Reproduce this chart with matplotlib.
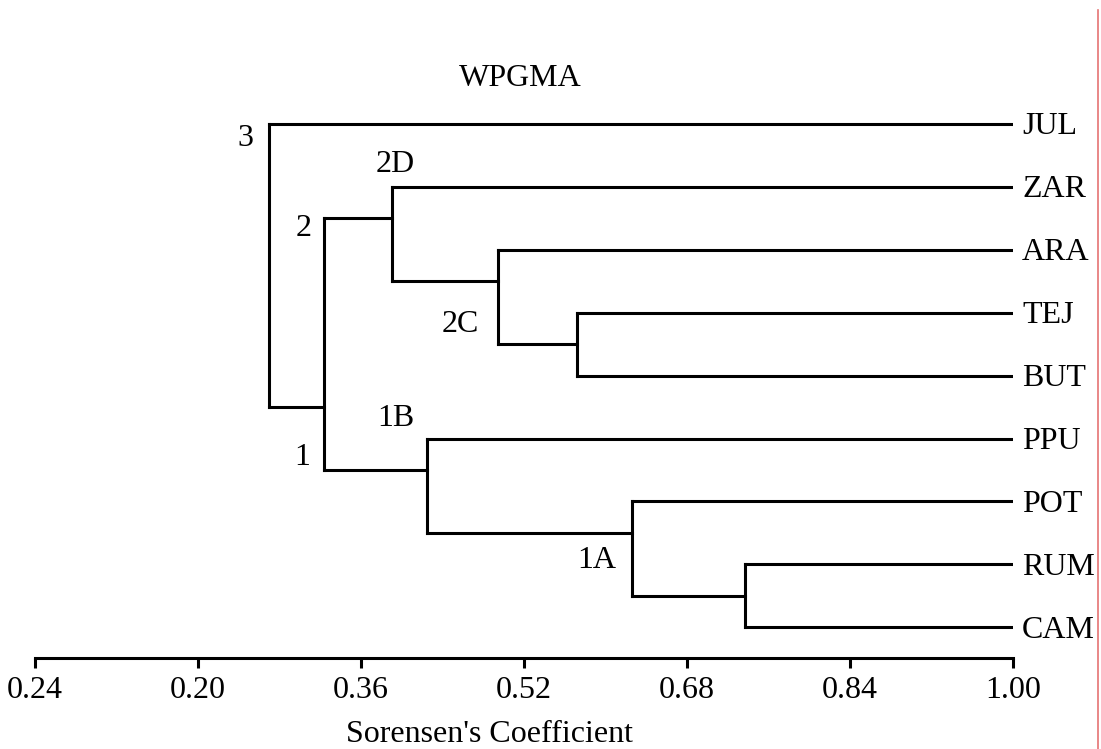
import matplotlib
matplotlib.use("Agg")
import matplotlib.pyplot as plt
from matplotlib.lines import Line2D

# ------------------------------------------------------------------ #
#  Data                                        #
# ------------------------------------------------------------------ #
leaves = ["JUL", "ZAR", "ARA", "TEJ", "BUT", "PPU", "POT", "RUM", "CAM"]

node_names = ["TB", "2C", "2D", "RC", "1A", "1B", "X", "3"]
node_left = ["TEJ", "ARA", "ZAR", "RUM", "POT", "PPU", "2D", "JUL"]
node_right = ["BUT", "TB", "2C", "CAM", "RC", "1A", "1B", "X"]
node_sim = [0.572, 0.494, 0.390, 0.737, 0.626, 0.425, 0.324, 0.270]

tick_vals = [0.04, 0.20, 0.36, 0.52, 0.68, 0.84, 1.00]
tick_labels = ["0.24", "0.20", "0.36", "0.52", "0.68", "0.84", "1.00"]

# cluster labels: node, text, anchor ("top", "bottom", "stem"), offset in px
label_node = ["3", "2D", "X", "2C", "1B", "X", "1A"]
label_text = ["3", "2D", "2", "2C", "1B", "1", "1A"]
label_anchor = ["top", "top", "top", "bottom", "top", "bottom", "stem"]
label_offset = [(-24, -14), (4, 22), (-21, -10), (-37, 20), (-31, 20), (-22, 12), (-35, -28)]

FONT = "Liberation Serif"
FS = 23
LW = 2.2

W, H = 1101, 749
fig = plt.figure(figsize=(W / 100, H / 100), dpi=100)
fig.patch.set_facecolor("white")

# axes placed so that 0.04 -> x=35px, 1.00 -> x=1013px, axis line at y=658px
top_px, bot_px = 42, 658
ax = fig.add_axes([35 / W, 1 - bot_px / H, (1013 - 35) / W, (bot_px - top_px) / H])
row_px = 62.9
ax.set_xlim(0.04, 1.00)
ax.set_ylim((bot_px - 124) / row_px, -(124 - top_px) / row_px)

# layout: leaves at integer rows, a node's stem sits halfway between the
# last leaf of its left child and the first leaf of its right child
pos = {name: float(i) for i, name in enumerate(leaves)}
first = {name: i for i, name in enumerate(leaves)}
last = dict(first)
height = {name: 1.0 for name in leaves}
span = {}
for name, l, r, s in zip(node_names, node_left, node_right, node_sim):
    first[name] = first[l]
    last[name] = last[r]
    pos[name] = last[l] + 0.5
    height[name] = s
    span[name] = (pos[l], pos[r])
    ax.plot([s, s], [pos[l], pos[r]], color="black", lw=LW, solid_capstyle="projecting")
    for child in (l, r):
        ax.plot([s, height[child]], [pos[child], pos[child]], color="black", lw=LW,
                solid_capstyle="projecting")

for i, name in enumerate(leaves):
    ax.annotate(name, (1.0, i), xytext=(9, -3), textcoords="offset pixels",
                ha="left", va="center", fontsize=FS, family=FONT, annotation_clip=False)

for node, txt, anc, off in zip(label_node, label_text, label_anchor, label_offset):
    if anc == "top":
        y = span[node][0]
    elif anc == "bottom":
        y = span[node][1]
    else:
        y = pos[node]
    ax.annotate(txt, (height[node], y), xytext=off, textcoords="offset pixels",
                ha="center", va="center", fontsize=FS, family=FONT, annotation_clip=False)

for side in ("left", "right", "top"):
    ax.spines[side].set_visible(False)
ax.spines["bottom"].set_linewidth(LW)
ax.set_yticks([])
ax.set_xticks(tick_vals, tick_labels)
ax.tick_params(axis="x", direction="out", length=7, width=LW, pad=6, labelsize=FS)
for lab in ax.get_xticklabels():
    lab.set_family(FONT)

fig.text(520 / W, 1 - 78 / H, "WPGMA", ha="center", va="center", fontsize=FS, family=FONT)
fig.text(489 / W, 1 - 735 / H, "Sorensen's Coefficient", ha="center", va="center",
         fontsize=FS, family=FONT)

# thin red page edge on the right
fig.add_artist(Line2D([1098 / W, 1098 / W], [0, 1 - 10 / H], color="#e57373", lw=1.2))

fig.savefig("out.png", dpi=100, facecolor="white")
